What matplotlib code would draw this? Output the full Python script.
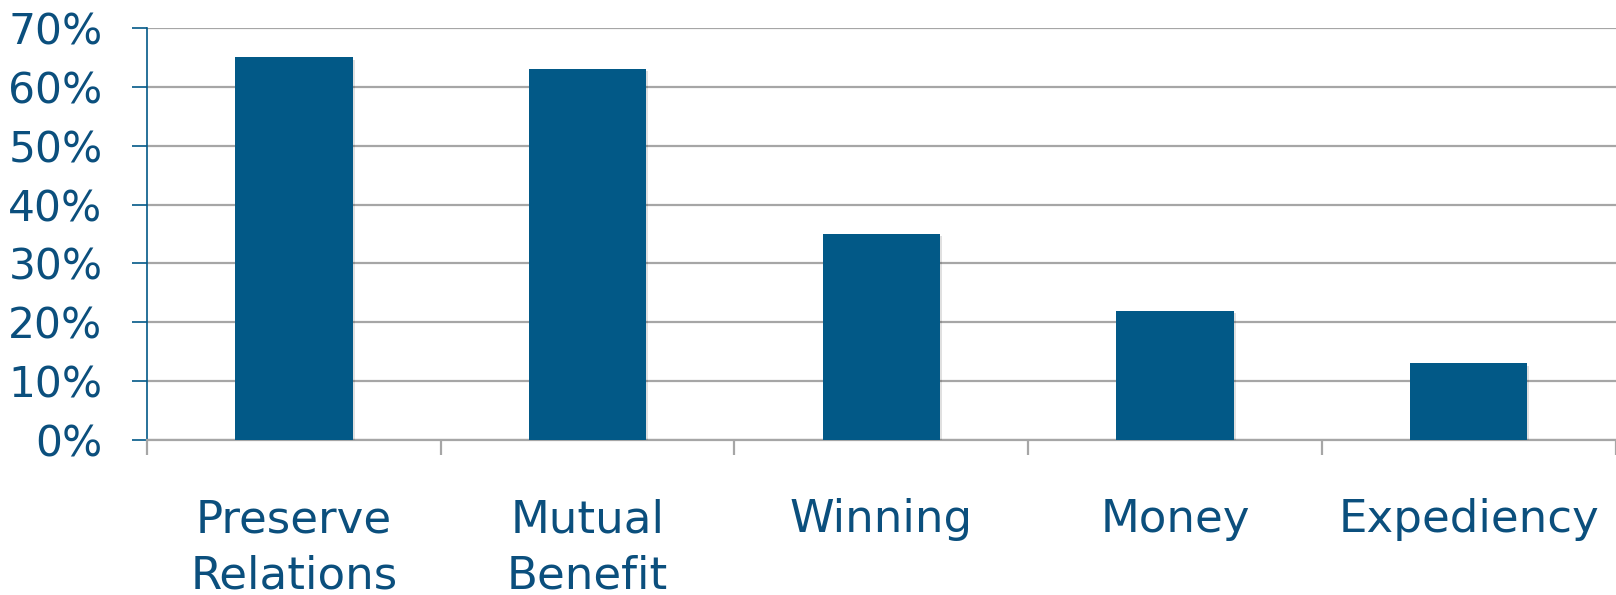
import numpy as np
import matplotlib
matplotlib.use("Agg")
import matplotlib.pyplot as plt
import matplotlib.patheffects as pe
from matplotlib.ticker import FixedLocator, FuncFormatter

categories = ["Preserve\nRelations", "Mutual\nBenefit", "Winning", "Money", "Expediency"]
values = [65, 63, 35, 22, 13]
y_ticks = [0, 10, 20, 30, 40, 50, 60, 70]

bar_color = "#025987"
text_color = "#0b4f7d"
grid_color = "#a6a6a6"

plt.rcParams['font.family'] = ['DejaVu Sans']

fig = plt.figure(figsize=(16.16, 5.95), dpi=100)
ax = fig.add_axes([147 / 1616, 1 - 440 / 595, (1615.5 - 147) / 1616, (440 - 28) / 595])

x = np.arange(len(categories))
bars = ax.bar(x, values, width=0.4, color=bar_color, zorder=3)
for b in bars:
    b.set_path_effects([pe.SimplePatchShadow(offset=(1.5, -1.5), shadow_rgbFace="#000000", alpha=0.12),
                        pe.Normal()])

ax.set_xlim(-0.5, len(categories) - 0.5)
ax.set_ylim(0, 70)

ax.set_yticks(y_ticks)
ax.yaxis.set_major_formatter(FuncFormatter(lambda v, p: f"{int(v)}%"))
ax.grid(axis="y", color=grid_color, linewidth=1.6, zorder=0)
ax.set_axisbelow(True)

ax.set_xticks(x)
ax.set_xticklabels(categories, linespacing=1.38)
ax.xaxis.set_minor_locator(FixedLocator(np.arange(-0.5, len(categories), 1.0)))

ax.tick_params(axis="y", which="major", direction="out", length=11, width=1.2,
               color=bar_color, labelcolor=text_color, labelsize=30.5, pad=21)
ax.tick_params(axis="x", which="major", length=0, labelcolor=text_color,
               labelsize=32.5, pad=42)
ax.tick_params(axis="x", which="minor", direction="out", length=11, width=1.6,
               color=grid_color)

for side in ["top", "right"]:
    ax.spines[side].set_visible(False)
ax.spines["left"].set_color(bar_color)
ax.spines["left"].set_linewidth(1.2)
ax.spines["bottom"].set_color(grid_color)
ax.spines["bottom"].set_linewidth(1.6)

fig.savefig("out.png", dpi=100)
